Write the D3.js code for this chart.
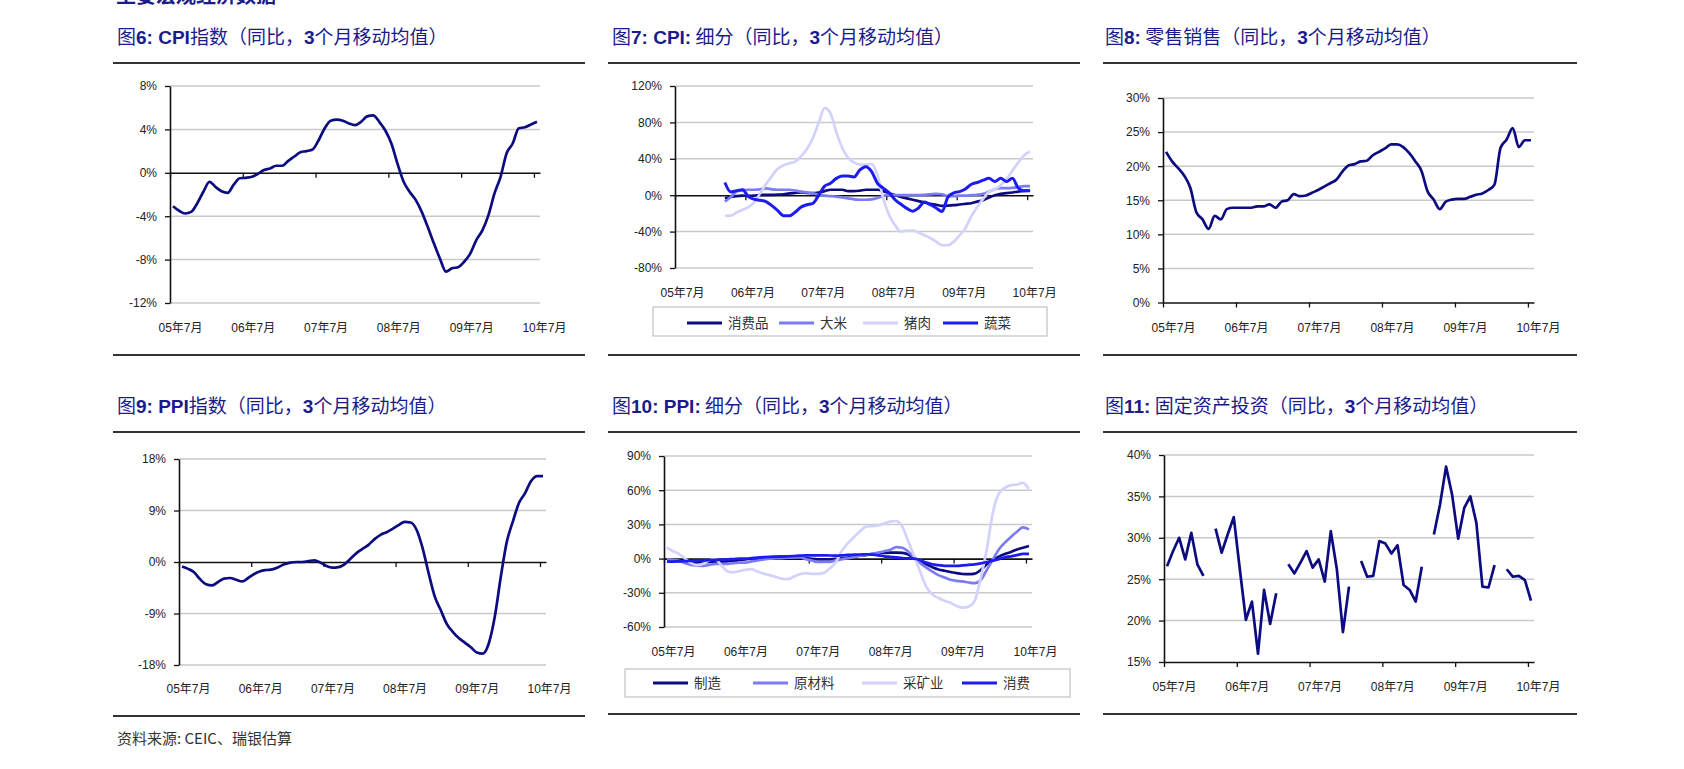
<!DOCTYPE html>
<html><head><meta charset="utf-8">
<script src="https://cdn.jsdelivr.net/npm/d3@7"></script>
<style>
html,body{margin:0;padding:0;background:#fff;}
svg{display:block;}
.ax text{font-family:"Liberation Sans",Arial,"Noto Sans CJK SC",sans-serif;font-size:12px;fill:#222;}
</style></head>
<body>
<script>
// ---------- DATA ----------
const xLabels = ["05年7月","06年7月","07年7月","08年7月","09年7月","10年7月"];

// Fig 6: CPI (monthly, 05/7 .. 10/7)
const cpi = [-3.08,-3.5,-3.75,-3.6,-2.8,-1.75,-0.83,-1.3,-1.7,-1.85,-1.1,-0.5,-0.46,-0.37,-0.1,0.25,0.4,0.65,0.65,1.1,1.5,1.9,2.0,2.15,3.0,4.1,4.8,4.9,4.8,4.55,4.4,4.7,5.2,5.3,4.7,3.9,2.7,0.85,-0.8,-1.75,-2.5,-3.6,-5.0,-6.5,-7.9,-9.1,-8.8,-8.7,-8.2,-7.45,-6.2,-5.3,-3.9,-1.9,-0.37,1.8,2.7,4.1,4.2,4.45,4.7];

// Fig 7: CPI breakdown (first 8 months missing)
const cpiConsumer = [null,null,null,null,null,null,null,null,-3.3,-2,-1,-0.5,-0.7,-0.5,0.4,0.4,0.4,0.6,1,2,2.5,3,2.5,2.2,3,4.5,6,6,6,4.5,4.4,5,6,6,6,4.5,2,0,-2,-3.5,-5,-6.5,-8,-9.5,-10.5,-11.7,-11.5,-11,-10.2,-9.5,-8.8,-7,-5.5,-2.5,0,1.5,2.2,3,4,4.8,5.1];
const cpiRice = [null,null,null,null,null,null,null,null,-7,-2,4,5.5,6,6,6.5,7.5,6.5,6,6,6,5,4,3,2,0.5,-0.5,-1,-1.5,-2.5,-3.5,-4.5,-5,-5,-4.5,-3,-1,0.5,0,0,0,0,0,0.5,1,1.5,1,-1,-1,-0.5,-0.5,0,0.5,1.5,4,6.5,7.7,7.7,8,9,10,10];
const cpiPork = [null,null,null,null,null,null,null,null,-22.7,-22.5,-19,-16,-13,-8,2,12,21,29,33,35,37,43,51,63,80,96,90,69,52,41,36,33.5,33.5,34.4,22,-4,-22,-33,-40,-39,-39,-41,-44,-47,-51,-55,-55,-51,-44,-36,-23,-13,-4,4,6.5,11,18,27,36,44,48];
const cpiVeg = [null,null,null,null,null,null,null,null,14,3.5,5,6,-1.5,-4.5,-5.5,-7,-11.5,-17,-22.5,-22.7,-18.5,-13,-10.5,-9,0,10,13,18.5,21,21,20,27.8,31.4,26,13,7.7,2.5,-5,-10,-14.5,-17.5,-14,-7.5,-10.5,-14,-18,-2,2.5,4,6.8,12,14,16.5,18.5,15,18.6,15,18.6,7.7,4.8,4.8];
const cpiNames = ["消费品","大米","猪肉","蔬菜"];

// Fig 8: retail sales
const retail = [22.1,20.7,19.7,18.6,16.8,13.2,12.2,10.8,12.7,12.2,13.7,13.9,13.9,13.9,13.9,14.1,14.1,14.4,13.9,14.8,15.0,15.9,15.6,15.7,16.1,16.5,17.0,17.5,18.0,19.2,20.1,20.3,20.7,20.8,21.6,22.1,22.6,23.2,23.2,22.8,21.9,20.7,19.3,16.3,15.1,13.7,14.8,15.1,15.2,15.2,15.5,15.8,16.0,16.5,17.3,22.7,23.9,25.6,22.8,23.8,23.8];

// Fig 9: PPI
const ppi = [-0.8,-1.2,-1.8,-3.0,-3.9,-4.1,-3.5,-2.9,-2.8,-3.1,-3.4,-2.8,-2.1,-1.6,-1.4,-1.3,-0.9,-0.4,-0.1,0,0,0.15,0.3,-0.1,-0.7,-1.0,-0.9,-0.4,0.55,1.55,2.3,3.0,4.0,4.75,5.2,5.8,6.45,7.0,6.9,5.6,2.4,-2.0,-6.0,-8.4,-10.8,-12.2,-13.3,-14.1,-14.9,-15.8,-16.0,-14.2,-9.5,-2.5,3.6,7.1,10.3,12.0,14.1,15.0,15.0];

// Fig 10: PPI breakdown
const ppiManu = [-1.7,-2,-2,-3,-3.5,-3.5,-3.2,-2.8,-2.6,-2.6,-2.4,-1.9,-1.2,-0.6,-0.2,0.3,0.7,1.1,1.4,1.7,1.7,1.7,1.4,0.6,-0.2,-0.6,-0.6,-0.6,-0.3,0.3,0.9,1.8,2.6,3.1,3.9,4.7,5.0,5.2,5.2,5.0,3.5,0,-2.4,-5,-7.5,-9.5,-10.7,-11.8,-12.8,-13.5,-13.7,-13.2,-10,-5,-1.2,1.7,4,5.8,8,9.5,11];
const ppiRaw = [-0.6,-1,-2,-4,-5.5,-6,-6.4,-5.5,-4.7,-4.7,-4.7,-4,-3.5,-3.5,-2.5,-1.7,-0.8,0,0.3,0.5,0.8,1,1.2,-0.5,-1.7,-2.9,-2.9,-2.9,-1.5,-0.6,0.3,1.3,2.5,3.2,4.3,5.2,6.5,7.8,10,9.5,6,1,-4,-8,-11.4,-14.5,-16.5,-18.5,-19.5,-20,-21,-21.6,-18.8,-10,-1,8,14,19,23.5,27.4,25.6];
const ppiMining = [9.6,6.5,4,0,-4,-5.5,-4.5,-1.5,-0.5,-6,-11,-12,-11,-9.8,-9.3,-11.4,-13.2,-14.5,-16,-17.5,-18,-16,-13.8,-12.8,-13.4,-13.4,-12.5,-8.5,-3,7,13.5,19,24,28,28.5,29,31,32.5,33,28,15,1.7,-12,-25,-31.5,-34.5,-37,-38.8,-41.5,-43,-42,-37,-17,8,40,57,62,64.5,65,66.4,61];
const ppiConsumer = [-2.6,-2.6,-2.4,-2.2,-2,-1.8,-1.6,-1.4,-1.2,-1,-0.6,-0.4,-0.1,0,0.4,0.9,1.3,1.6,1.7,1.7,2,2.3,2.6,2.9,2.9,2.9,2.9,2.7,2.6,2.8,3.2,3.4,3.6,3.8,3.5,2.9,2,1.5,1,0.5,0.2,0,-1.5,-3.5,-5,-5.8,-6.4,-6.4,-6.4,-6,-5.5,-5,-4.2,-3,-1.8,-0.5,1.2,2,3,4.1,4.1];
const ppiNames = ["制造","原材料","采矿业","消费"];

// Fig 11: fixed asset investment (gaps = no data)
const fai = [26.55,28.4,30.0,27.4,30.6,26.8,25.4,null,31.1,28.2,30.4,32.5,26.2,20.1,22.3,16.0,23.7,19.6,23.3,null,26.8,25.7,27.0,28.4,26.4,27.4,24.7,30.8,26.2,18.6,24.1,null,27.2,25.3,25.4,29.6,29.3,28.1,29.1,24.3,23.7,22.3,26.5,null,30.4,34.0,38.6,35.2,29.9,33.6,35.0,31.8,24.1,24.0,26.7,null,26.2,25.3,25.4,24.9,22.4];

const yTicks1 = [-12,-8,-4,0,4,8];
const yTicks2 = [-80,-40,0,40,80,120];
const yTicks3 = [0,5,10,15,20,25,30];
const yTicks4 = [-18,-9,0,9,18];
const yTicks5 = [-60,-30,0,30,60,90];
const yTicks6 = [15,20,25,30,35,40];

// ---------- DRAW ----------
const W = 1684, H = 769;
const NAVY = "#0c0c80", MID = "#7b7bf5", LIGHT = "#d2d2fb", BRIGHT = "#1c1cf0";
const TITLE = "#1b1b8c";
const svg = d3.select("body").append("svg").attr("width", W).attr("height", H);

const fontLatin = '"Liberation Sans Narrow","Liberation Sans",Arial,"Noto Sans CJK SC",sans-serif';
const fontCJK = '"Noto Sans CJK SC","Liberation Sans",sans-serif';

// partially visible page heading
svg.append("text").attr("x", 116).attr("y", 3)
  .attr("font-family", fontCJK).attr("font-size", 20).attr("font-weight", "bold")
  .attr("fill", TITLE).text("主要宏观经济数据");

function title(x, y, parts) {
  const t = svg.append("text").attr("x", x).attr("y", y).attr("fill", TITLE)
    .attr("font-size", 19).attr("font-family", fontCJK);
  parts.forEach(p => {
    t.append("tspan").text(p[0])
      .attr("font-weight", p[1] ? "bold" : "normal")
      .attr("font-family", p[1] ? fontLatin : fontCJK);
  });
}
function rule(x1, x2, y) {
  svg.append("line").attr("x1", x1).attr("x2", x2).attr("y1", y).attr("y2", y)
    .attr("stroke", "#333").attr("stroke-width", 2);
}

const tickIdx = [-0.5, 11.5, 23.5, 35.5, 47.5, 59.5];

function chart(c) {
  const g = svg.append("g");
  const x = d3.scaleLinear().domain([-0.5, 60.5]).range([c.L, c.R]);
  const y = d3.scaleLinear().domain(c.yDomain).range([c.B, c.T]);
  // grid
  g.append("g").selectAll("line").data(c.yTicks.filter(t => t !== c.axisAt)).join("line")
    .attr("x1", c.L).attr("x2", c.R).attr("y1", d => y(d)).attr("y2", d => y(d))
    .attr("stroke", "#c9c9c9").attr("stroke-width", 1.5);
  // y axis
  const ya = g.append("g").attr("class", "ax").attr("transform", `translate(${c.L},0)`)
    .call(d3.axisLeft(y).tickValues(c.yTicks).tickSize(5).tickSizeOuter(0).tickPadding(8).tickFormat(d => d + "%"));
  ya.select(".domain").attr("stroke", "#111").attr("stroke-width", 1.6);
  ya.selectAll(".tick line").attr("stroke", "#111").attr("stroke-width", 1.3);
  // x axis line at axisAt
  const xa = g.append("g").attr("class", "ax").attr("transform", `translate(0,${y(c.axisAt)})`)
    .call(d3.axisBottom(x).tickValues(tickIdx).tickSize(5).tickSizeOuter(0).tickFormat(""));
  xa.select(".domain").attr("stroke", "#111").attr("stroke-width", 1.6);
  xa.selectAll(".tick line").attr("stroke", "#111").attr("stroke-width", 1.3);
  // x labels
  const xl = g.append("g").attr("class", "ax").attr("transform", `translate(0,${c.labelY})`)
    .call(d3.axisBottom(x).tickValues(tickIdx).tickSize(0).tickPadding(0).tickFormat((d, i) => xLabels[i]));
  xl.select(".domain").remove();
  xl.selectAll("text").attr("dx", c.dx).attr("dy", "0.35em");
  // series
  c.series.forEach(s => {
    const line = d3.line().defined(d => d != null).x((d, i) => x(i)).y(d => y(d))
      .curve(c.curve || d3.curveMonotoneX);
    g.append("path").datum(s.data).attr("d", line).attr("fill", "none")
      .attr("stroke", s.color).attr("stroke-width", s.w || 2.7)
      .attr("stroke-linejoin", "round").attr("stroke-linecap", "butt");
  });
  // legend
  if (c.legend) {
    const lg = c.legend;
    g.append("rect").attr("x", lg.x1).attr("y", lg.y1).attr("width", lg.x2 - lg.x1).attr("height", lg.y2 - lg.y1)
      .attr("fill", "#fff").attr("stroke", "#b5b5b5").attr("stroke-width", 1);
    c.series.forEach((s, i) => {
      const lx = lg.items[i];
      g.append("line").attr("x1", lx).attr("x2", lx + 35).attr("y1", lg.ly).attr("y2", lg.ly)
        .attr("stroke", s.color).attr("stroke-width", 3);
      g.append("text").attr("x", lx + 41).attr("y", lg.ly).attr("dy", "0.36em")
        .attr("font-family", fontCJK).attr("font-size", 13.5).attr("fill", "#333").text(s.name);
    });
  }
}

// titles & rules
title(117, 44, [["图"], ["6: CPI", 1], ["指数（同比，"], ["3", 1], ["个月移动均值）"]]);
title(612, 44, [["图"], ["7: CPI:", 1], [" 细分（同比，"], ["3", 1], ["个月移动均值）"]]);
title(1105, 44, [["图"], ["8:", 1], [" 零售销售（同比，"], ["3", 1], ["个月移动均值）"]]);
title(117, 413, [["图"], ["9: PPI", 1], ["指数（同比，"], ["3", 1], ["个月移动均值）"]]);
title(612, 413, [["图"], ["10: PPI:", 1], [" 细分（同比，"], ["3", 1], ["个月移动均值）"]]);
title(1105, 413, [["图"], ["11:", 1], [" 固定资产投资（同比，"], ["3", 1], ["个月移动均值）"]]);

rule(113, 585, 63); rule(608, 1080, 63); rule(1103, 1577, 63);
rule(113, 585, 355); rule(608, 1080, 355); rule(1103, 1577, 355);
rule(113, 585, 432); rule(608, 1080, 432); rule(1103, 1577, 432);
rule(113, 585, 716); rule(608, 1080, 714); rule(1103, 1577, 714);

chart({L:170, R:540, T:86, B:303, yDomain:[-12,8], yTicks:yTicks1, axisAt:0, labelY:328, dx:10,
  series:[{data:cpi, color:NAVY}]});
chart({L:675, R:1033, T:86, B:268, yDomain:[-80,120], yTicks:yTicks2, axisAt:0, labelY:293, dx:7,
  series:[{data:cpiConsumer, color:NAVY, name:cpiNames[0]}, {data:cpiRice, color:MID, name:cpiNames[1]},
          {data:cpiPork, color:LIGHT, name:cpiNames[2]}, {data:cpiVeg, color:BRIGHT, name:cpiNames[3], w:3}],
  legend:{x1:653, x2:1047, y1:307, y2:336, ly:323, items:[687, 779, 863, 943]}});
chart({L:1163, R:1534, T:98, B:302.5, yDomain:[0,30], yTicks:yTicks3, axisAt:0, labelY:328, dx:10,
  series:[{data:retail, color:NAVY}]});
chart({L:179, R:546, T:459, B:665, yDomain:[-18,18], yTicks:yTicks4, axisAt:0, labelY:689, dx:9,
  series:[{data:ppi, color:NAVY}]});
chart({L:664, R:1032, T:456, B:627, yDomain:[-60,90], yTicks:yTicks5, axisAt:0, labelY:652, dx:9,
  series:[{data:ppiManu, color:NAVY, name:ppiNames[0]}, {data:ppiRaw, color:MID, name:ppiNames[1]},
          {data:ppiMining, color:LIGHT, name:ppiNames[2]}, {data:ppiConsumer, color:BRIGHT, name:ppiNames[3]}],
  legend:{x1:625, x2:1070, y1:669, y2:697, ly:683, items:[653, 753, 862, 962]}});
chart({L:1164, R:1534, T:455, B:662, yDomain:[15,40], yTicks:yTicks6, axisAt:15, labelY:687, dx:10,
  series:[{data:fai, color:NAVY}], curve:d3.curveLinear});

// source
svg.append("text").attr("x", 117).attr("y", 739).attr("dy", "0.35em")
  .attr("font-family", '"Noto Sans CJK SC","Liberation Sans",sans-serif').attr("font-size", 15)
  .attr("fill", "#333").text("资料来源: CEIC、瑞银估算");
</script>
</body></html>
